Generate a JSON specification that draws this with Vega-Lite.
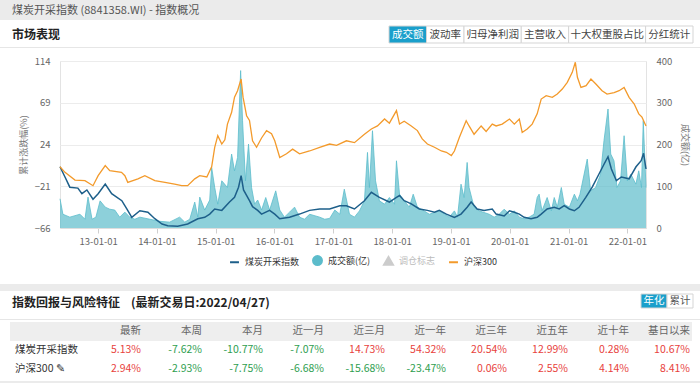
{
  "$schema": "https://vega.github.io/schema/vega-lite/v6.json",
  "padding": 0,
  "background": "#ffffff",
  "spacing": 0,
  "config": {
    "font": "Noto Sans CJK SC",
    "view": {"stroke": null},
    "concat": {"spacing": 0},
    "title": {"font": "Noto Sans CJK SC", "baseline": "middle"},
    "axis": {"labelFont": "Noto Sans CJK SC", "titleFont": "Noto Sans CJK SC"},
    "legend": {"labelFont": "Noto Sans CJK SC"},
    "text": {"font": "Noto Sans CJK SC"}
  },
  "datasets": {
    "coal": [
      {"d":"2012-05-09","v":0},{"d":"2012-06-09","v":-11},{"d":"2012-07-09","v":-22},{"d":"2012-08-28","v":-23},{"d":"2012-09-22","v":-29},{"d":"2012-10-23","v":-25},{"d":"2012-11-30","v":-35},
      {"d":"2013-01-01","v":-29},{"d":"2013-02-14","v":-18.6},{"d":"2013-03-26","v":-29},{"d":"2013-05-28","v":-36.6},{"d":"2013-06-28","v":-45.5},{"d":"2013-07-29","v":-54.5},{"d":"2013-09-17","v":-47.4},{"d":"2013-11-06","v":-49},{"d":"2013-12-19","v":-56},
      {"d":"2014-02-02","v":-61.7},{"d":"2014-03-09","v":-63.5},{"d":"2014-05-10","v":-64},{"d":"2014-07-11","v":-61.7},{"d":"2014-09-12","v":-56},{"d":"2014-10-25","v":-54.5},{"d":"2014-11-25","v":-51},{"d":"2014-12-26","v":-45.5},
      {"d":"2015-02-08","v":-47},{"d":"2015-03-28","v":-38},{"d":"2015-04-28","v":-33},{"d":"2015-05-23","v":-22},{"d":"2015-06-08","v":-9.6},{"d":"2015-06-23","v":-25},{"d":"2015-07-30","v":-36.6},{"d":"2015-08-18","v":-43},{"d":"2015-09-19","v":-47},{"d":"2015-10-13","v":-51},{"d":"2015-12-02","v":-47},
      {"d":"2016-01-03","v":-51},{"d":"2016-02-03","v":-56},{"d":"2016-04-04","v":-54.5},{"d":"2016-06-05","v":-51},{"d":"2016-08-06","v":-47},{"d":"2016-10-08","v":-45.5},{"d":"2016-12-09","v":-45.5},
      {"d":"2017-02-10","v":-42},{"d":"2017-03-23","v":-42},{"d":"2017-05-12","v":-45.5},{"d":"2017-07-13","v":-36.6},{"d":"2017-08-25","v":-27.5},{"d":"2017-10-14","v":-33},{"d":"2017-12-15","v":-38},
      {"d":"2018-01-28","v":-33},{"d":"2018-02-16","v":-31},{"d":"2018-03-17","v":-36.6},{"d":"2018-04-30","v":-40},{"d":"2018-06-19","v":-45.5},{"d":"2018-08-08","v":-47},{"d":"2018-09-21","v":-49},{"d":"2018-10-21","v":-47},{"d":"2018-12-04","v":-51},
      {"d":"2019-01-23","v":-54.5},{"d":"2019-03-05","v":-51},{"d":"2019-04-12","v":-43.7},{"d":"2019-05-07","v":-38},{"d":"2019-06-13","v":-45.5},{"d":"2019-07-26","v":-47},{"d":"2019-09-15","v":-45.5},{"d":"2019-10-09","v":-51},{"d":"2019-11-28","v":-53},{"d":"2019-12-31","v":-47.4},
      {"d":"2020-01-30","v":-49},{"d":"2020-03-01","v":-51},{"d":"2020-03-31","v":-54.5},{"d":"2020-05-13","v":-56},{"d":"2020-06-20","v":-54.5},{"d":"2020-07-15","v":-51},{"d":"2020-08-21","v":-45.5},{"d":"2020-10-04","v":-43.7},{"d":"2020-11-04","v":-45.5},{"d":"2020-12-05","v":-42},
      {"d":"2021-01-06","v":-45.5},{"d":"2021-02-06","v":-47.4},{"d":"2021-03-07","v":-43.7},{"d":"2021-04-18","v":-33},{"d":"2021-05-28","v":-22},{"d":"2021-07-09","v":-7.8},{"d":"2021-08-10","v":3},{"d":"2021-09-03","v":10.8},{"d":"2021-09-24","v":-2.4},{"d":"2021-10-25","v":-15},{"d":"2021-11-25","v":-11},
      {"d":"2022-01-12","v":-13},{"d":"2022-02-24","v":0},{"d":"2022-03-28","v":6.6},{"d":"2022-04-12","v":14.5},{"d":"2022-04-27","v":-2.4}
    ],
    "hs300": [
      {"d":"2012-05-09","v":0},{"d":"2012-06-09","v":-6},{"d":"2012-08-10","v":-14.3},{"d":"2012-10-11","v":-15},{"d":"2012-11-30","v":-20.4},
      {"d":"2013-01-01","v":-9.6},{"d":"2013-02-14","v":1.2},{"d":"2013-03-14","v":-4.2},{"d":"2013-05-26","v":-6},{"d":"2013-06-16","v":-9.6},{"d":"2013-07-04","v":-16.8},{"d":"2013-09-05","v":-13},{"d":"2013-10-18","v":-9.6},{"d":"2013-12-19","v":-15},
      {"d":"2014-02-20","v":-16.8},{"d":"2014-04-21","v":-18.6},{"d":"2014-06-04","v":-20.4},{"d":"2014-07-11","v":-20.4},{"d":"2014-08-24","v":-13},{"d":"2014-09-24","v":-9.6},{"d":"2014-11-07","v":-11},{"d":"2014-12-07","v":0},{"d":"2014-12-26","v":21},
      {"d":"2015-01-14","v":33.5},{"d":"2015-02-08","v":24.5},{"d":"2015-02-27","v":29},{"d":"2015-03-15","v":46},{"d":"2015-04-10","v":58.7},{"d":"2015-04-28","v":75},{"d":"2015-05-17","v":82},{"d":"2015-06-08","v":94.6},{"d":"2015-06-20","v":75},{"d":"2015-07-12","v":55},{"d":"2015-07-30","v":50},{"d":"2015-08-18","v":28},{"d":"2015-09-12","v":21},{"d":"2015-10-13","v":31},{"d":"2015-11-13","v":39},{"d":"2015-12-14","v":35.7},
      {"d":"2016-01-03","v":28},{"d":"2016-02-03","v":10},{"d":"2016-03-16","v":14},{"d":"2016-04-23","v":19},{"d":"2016-06-05","v":14},{"d":"2016-08-06","v":17},{"d":"2016-10-08","v":21},{"d":"2016-12-09","v":24.5},
      {"d":"2017-01-21","v":23},{"d":"2017-03-23","v":28},{"d":"2017-05-12","v":26},{"d":"2017-07-13","v":35},{"d":"2017-08-25","v":40.7},{"d":"2017-10-02","v":44},{"d":"2017-11-15","v":51.5},{"d":"2017-12-15","v":47},
      {"d":"2018-01-28","v":60.5},{"d":"2018-02-16","v":46},{"d":"2018-03-17","v":49},{"d":"2018-04-30","v":44},{"d":"2018-06-07","v":39},{"d":"2018-07-07","v":30},{"d":"2018-08-08","v":24.5},{"d":"2018-09-21","v":21},{"d":"2018-11-03","v":17},{"d":"2018-12-04","v":15.6},
      {"d":"2019-01-04","v":12},{"d":"2019-01-23","v":17},{"d":"2019-02-23","v":31.7},{"d":"2019-04-06","v":49.6},{"d":"2019-04-24","v":44},{"d":"2019-05-25","v":35},{"d":"2019-07-08","v":44},{"d":"2019-08-08","v":38},{"d":"2019-09-15","v":46},{"d":"2019-10-09","v":44},{"d":"2019-11-16","v":46},{"d":"2019-12-31","v":51.5},
      {"d":"2020-01-30","v":46},{"d":"2020-03-01","v":51.5},{"d":"2020-03-19","v":37},{"d":"2020-04-19","v":40.7},{"d":"2020-05-20","v":46},{"d":"2020-06-20","v":57},{"d":"2020-07-15","v":73},{"d":"2020-08-15","v":76.6},{"d":"2020-09-22","v":74.8},{"d":"2020-10-23","v":78.4},{"d":"2020-11-23","v":83.8},{"d":"2020-12-24","v":91},
      {"d":"2021-01-24","v":101.8},{"d":"2021-02-12","v":112.6},{"d":"2021-02-25","v":96.5},{"d":"2021-03-19","v":85.6},{"d":"2021-04-20","v":87.4},{"d":"2021-05-20","v":94.6},{"d":"2021-06-21","v":89},{"d":"2021-07-28","v":82},{"d":"2021-08-28","v":78.4},{"d":"2021-10-11","v":80},{"d":"2021-11-11","v":82},{"d":"2021-12-12","v":85.6},
      {"d":"2022-01-12","v":74.8},{"d":"2022-02-13","v":67.6},{"d":"2022-03-13","v":57},{"d":"2022-04-02","v":53.5},{"d":"2022-04-27","v":44}
    ],
    "vol": [
      {"d":"2012-05-09","v":70},{"d":"2012-05-27","v":33},{"d":"2012-07-09","v":26},{"d":"2012-09-10","v":33},{"d":"2012-10-11","v":21},{"d":"2012-10-30","v":74},{"d":"2012-11-24","v":21},{"d":"2012-12-18","v":26},
      {"d":"2013-01-13","v":65},{"d":"2013-02-14","v":50},{"d":"2013-03-14","v":45},{"d":"2013-04-14","v":43},{"d":"2013-05-15","v":26},{"d":"2013-06-16","v":38},{"d":"2013-07-16","v":26},{"d":"2013-08-17","v":21},{"d":"2013-09-17","v":26},{"d":"2013-11-18","v":21},
      {"d":"2014-01-20","v":16},{"d":"2014-03-21","v":14},{"d":"2014-05-22","v":26},{"d":"2014-06-23","v":14},{"d":"2014-07-24","v":21},{"d":"2014-08-24","v":62},{"d":"2014-09-12","v":26},{"d":"2014-09-24","v":74},{"d":"2014-10-25","v":43},{"d":"2014-11-25","v":67},{"d":"2014-12-07","v":145},{"d":"2014-12-26","v":97},
      {"d":"2015-01-14","v":57},{"d":"2015-02-08","v":113},{"d":"2015-03-15","v":97},{"d":"2015-04-10","v":177},{"d":"2015-04-28","v":137},{"d":"2015-05-17","v":169},{"d":"2015-06-05","v":377},{"d":"2015-06-17","v":257},{"d":"2015-07-05","v":113},{"d":"2015-07-24","v":201},{"d":"2015-08-12","v":97},{"d":"2015-08-31","v":57},{"d":"2015-09-19","v":67},{"d":"2015-10-13","v":43},{"d":"2015-11-08","v":73},{"d":"2015-12-02","v":43},
      {"d":"2016-01-09","v":89},{"d":"2016-02-03","v":43},{"d":"2016-03-03","v":26},{"d":"2016-04-04","v":38},{"d":"2016-05-05","v":50},{"d":"2016-06-05","v":26},{"d":"2016-07-06","v":21},{"d":"2016-08-06","v":33},{"d":"2016-10-08","v":26},{"d":"2016-11-08","v":21},{"d":"2016-12-09","v":23},
      {"d":"2017-01-10","v":43},{"d":"2017-02-10","v":33},{"d":"2017-03-10","v":93},{"d":"2017-04-11","v":33},{"d":"2017-05-12","v":26},{"d":"2017-06-12","v":41},{"d":"2017-07-13","v":65},{"d":"2017-08-01","v":181},{"d":"2017-08-13","v":97},{"d":"2017-09-01","v":233},{"d":"2017-09-20","v":113},{"d":"2017-10-14","v":65},{"d":"2017-11-15","v":57},{"d":"2017-12-15","v":73},
      {"d":"2018-01-16","v":57},{"d":"2018-01-28","v":161},{"d":"2018-02-16","v":81},{"d":"2018-03-17","v":65},{"d":"2018-04-18","v":50},{"d":"2018-05-12","v":81},{"d":"2018-06-07","v":50},{"d":"2018-07-19","v":41},{"d":"2018-08-20","v":33},{"d":"2018-10-21","v":41},{"d":"2018-12-22","v":26},
      {"d":"2019-01-23","v":41},{"d":"2019-02-11","v":26},{"d":"2019-03-05","v":105},{"d":"2019-03-24","v":73},{"d":"2019-04-12","v":157},{"d":"2019-04-24","v":97},{"d":"2019-05-25","v":50},{"d":"2019-06-26","v":41},{"d":"2019-08-27","v":33},{"d":"2019-09-27","v":26},{"d":"2019-10-28","v":33},{"d":"2019-11-28","v":45},{"d":"2019-12-31","v":33},
      {"d":"2020-01-30","v":41},{"d":"2020-03-01","v":26},{"d":"2020-03-31","v":22},{"d":"2020-05-01","v":26},{"d":"2020-06-01","v":33},{"d":"2020-06-20","v":73},{"d":"2020-07-02","v":81},{"d":"2020-07-20","v":41},{"d":"2020-08-21","v":73},{"d":"2020-09-16","v":41},{"d":"2020-10-04","v":73},{"d":"2020-10-23","v":50},{"d":"2020-11-17","v":97},{"d":"2020-12-05","v":57},
      {"d":"2021-01-06","v":50},{"d":"2021-02-06","v":81},{"d":"2021-02-25","v":65},{"d":"2021-03-13","v":81},{"d":"2021-04-27","v":165},{"d":"2021-05-18","v":89},{"d":"2021-06-18","v":97},{"d":"2021-07-19","v":129},{"d":"2021-08-09","v":209},{"d":"2021-09-03","v":285},{"d":"2021-09-20","v":177},{"d":"2021-10-10","v":161},{"d":"2021-10-29","v":97},{"d":"2021-11-20","v":113},{"d":"2021-12-12","v":221},
      {"d":"2022-01-01","v":113},{"d":"2022-01-23","v":129},{"d":"2022-02-23","v":105},{"d":"2022-03-13","v":137},{"d":"2022-03-30","v":97},{"d":"2022-04-10","v":257},{"d":"2022-04-27","v":97}
    ],
    "tabs": [{"tab":"成交额"},{"tab":"波动率"},{"tab":"归母净利润"},{"tab":"主营收入"},{"tab":"十大权重股占比"},{"tab":"分红统计"}],
    "btns": [{"b":"年化"},{"b":"累计"}],
    "table": [
      {"r":"h","c":"最新","t":"最新"},{"r":"h","c":"本周","t":"本周"},{"r":"h","c":"本月","t":"本月"},{"r":"h","c":"近一月","t":"近一月"},{"r":"h","c":"近三月","t":"近三月"},{"r":"h","c":"近一年","t":"近一年"},{"r":"h","c":"近三年","t":"近三年"},{"r":"h","c":"近五年","t":"近五年"},{"r":"h","c":"近十年","t":"近十年"},{"r":"h","c":"基日以来","t":"基日以来"},
      {"r":"煤炭开采指数","c":"名称","t":"煤炭开采指数"},
      {"r":"煤炭开采指数","c":"最新","t":"5.13%","n":5.13},{"r":"煤炭开采指数","c":"本周","t":"-7.62%","n":-7.62},{"r":"煤炭开采指数","c":"本月","t":"-10.77%","n":-10.77},{"r":"煤炭开采指数","c":"近一月","t":"-7.07%","n":-7.07},{"r":"煤炭开采指数","c":"近三月","t":"14.73%","n":14.73},{"r":"煤炭开采指数","c":"近一年","t":"54.32%","n":54.32},{"r":"煤炭开采指数","c":"近三年","t":"20.54%","n":20.54},{"r":"煤炭开采指数","c":"近五年","t":"12.99%","n":12.99},{"r":"煤炭开采指数","c":"近十年","t":"0.28%","n":0.28},{"r":"煤炭开采指数","c":"基日以来","t":"10.67%","n":10.67},
      {"r":"沪深300","c":"名称","t":"沪深300 ✎"},
      {"r":"沪深300","c":"最新","t":"2.94%","n":2.94},{"r":"沪深300","c":"本周","t":"-2.93%","n":-2.93},{"r":"沪深300","c":"本月","t":"-7.75%","n":-7.75},{"r":"沪深300","c":"近一月","t":"-6.68%","n":-6.68},{"r":"沪深300","c":"近三月","t":"-15.68%","n":-15.68},{"r":"沪深300","c":"近一年","t":"-23.47%","n":-23.47},{"r":"沪深300","c":"近三年","t":"0.06%","n":0.06},{"r":"沪深300","c":"近五年","t":"2.55%","n":2.55},{"r":"沪深300","c":"近十年","t":"4.14%","n":4.14},{"r":"沪深300","c":"基日以来","t":"8.41%","n":8.41}
    ]
  },
  "vconcat": [
    {
      "width": 700, "height": 20,
      "data": {"values": [{}]},
      "mark": {"type": "rect", "color": "#ebebeb"},
      "title": {"text": "煤炭开采指数 (8841358.WI) - 指数概况", "anchor": "start", "frame": "group", "offset": -16, "dx": 12, "fontSize": 11, "fontWeight": "normal", "color": "#555555"}
    },
    {"width": 1, "height": 5, "data": {"values": [{}]}, "mark": {"type": "rect", "opacity": 0}},
    {
      "hconcat": [
        {
          "width": 388, "height": 17,
          "data": {"values": [{}]},
          "mark": {"type": "rect", "opacity": 0},
          "title": {"text": "市场表现", "anchor": "start", "frame": "group", "offset": -15.5, "dx": 12, "fontSize": 12, "fontWeight": "bold", "color": "#222222"}
        },
        {
          "width": 304, "height": 17,
          "data": {"name": "tabs"},
          "transform": [
            {"calculate": "length(datum.tab) * 10 + 8", "as": "w"},
            {"window": [{"op": "sum", "field": "w", "as": "e"}, {"op": "row_number", "as": "i"}]},
            {"calculate": "datum.e - datum.w", "as": "b"},
            {"calculate": "datum.e - datum.w / 2", "as": "m"}
          ],
          "layer": [
            {
              "mark": {"type": "rect", "stroke": "#d5d5d5", "strokeWidth": 1},
              "encoding": {
                "x": {"field": "b", "type": "quantitative", "scale": {"nice": false, "zero": true}, "axis": null},
                "x2": {"field": "e"},
                "color": {"condition": {"test": "datum.i == 1", "value": "#1a9fcb"}, "value": "#ffffff"}
              }
            },
            {
              "mark": {"type": "text", "fontSize": 10.5},
              "encoding": {
                "x": {"field": "m", "type": "quantitative", "axis": null},
                "text": {"field": "tab"},
                "color": {"condition": {"test": "datum.i == 1", "value": "#ffffff"}, "value": "#444444"}
              }
            }
          ]
        }
      ]
    },
    {"width": 1, "height": 3, "data": {"values": [{}]}, "mark": {"type": "rect", "opacity": 0}},
    {"width": 700, "height": 1, "data": {"values": [{}]}, "mark": {"type": "rect", "color": "#e6e6e6"}},
    {"width": 1, "height": 7, "data": {"values": [{}]}, "mark": {"type": "rect", "opacity": 0}},
    {
      "hconcat": [
        {"width": 18, "height": 1, "data": {"values": [{}]}, "mark": {"type": "rect", "opacity": 0}},
        {
          "width": 586, "height": 167,
          "view": {"stroke": "#e3e3e3"},
          "layer": [
            {
              "data": {"name": "vol"},
              "mark": {"type": "area", "fillOpacity": 0.7, "line": {"strokeWidth": 0.8}},
              "encoding": {
                "x": {"field": "d", "type": "temporal", "scale": {"domain": [{"year": 2012, "month": 5, "date": 9}, {"year": 2022, "month": 4, "date": 27}], "nice": false},
                      "axis": {"format": "%y-%m-%d", "tickCount": {"interval": "year", "step": 1}, "labelFontSize": 9.5, "labelColor": "#666666", "tickColor": "#cfcfcf", "tickSize": 5, "domainColor": "#dddddd", "grid": false, "labelPadding": 3, "title": null}},
                "y": {"field": "v", "type": "quantitative", "scale": {"domain": [0, 400], "nice": false},
                      "axis": {"orient": "right", "values": [0, 100, 200, 300, 400], "title": "成交额(亿)", "titleFontSize": 9, "titleColor": "#777777", "titleFontWeight": "normal", "titlePadding": 8, "labelFontSize": 9.5, "labelColor": "#666666", "labelPadding": 10, "domain": false, "ticks": false, "grid": false}},
                "color": {"datum": "成交额(亿)", "type": "nominal",
                          "scale": {"domain": ["煤炭开采指数", "成交额(亿)", "调仓标志", "沪深300"], "range": ["#1d5f8a", "#5cbccb", "#cccccc", "#f39a2b"]},
                          "legend": {
                            "orient": "none", "legendX": 229, "legendY": 255, "direction": "horizontal", "title": null,
                            "labelFontSize": 9, "labelColor": "#333333", "symbolSize": 80, "symbolStrokeWidth": 2, "columnPadding": 9, "labelOffset": 5,
                            "encode": {
                              "symbols": {"update": {
                                "shape": {"signal": "datum.label == '成交额(亿)' ? 'circle' : datum.label == '调仓标志' ? 'triangle-up' : 'stroke'"},
                                "fill": {"signal": "datum.label == '成交额(亿)' ? '#5cbccb' : datum.label == '调仓标志' ? '#cccccc' : 'transparent'"},
                                "stroke": {"signal": "datum.label == '煤炭开采指数' ? '#1d5f8a' : datum.label == '沪深300' ? '#f39a2b' : 'transparent'"},
                                "strokeWidth": {"value": 2}
                              }},
                              "labels": {"update": {"fill": {"signal": "datum.label == '调仓标志' ? '#bbbbbb' : '#333333'"}}}
                            }
                          }}
              }
            },
            {
              "data": {"name": "coal"},
              "mark": {"type": "line", "strokeWidth": 1.5},
              "encoding": {
                "x": {"field": "d", "type": "temporal"},
                "y": {"field": "v", "type": "quantitative", "scale": {"domain": [-66, 114], "nice": false},
                      "axis": {"values": [114, 69, 24, -21, -66], "title": "累计涨跌幅(%)", "titleFontSize": 9, "titleColor": "#777777", "titleFontWeight": "normal", "titlePadding": 6, "labelFontSize": 9.5, "labelColor": "#666666", "labelPadding": 10, "domain": false, "ticks": false, "grid": true, "gridColor": "#ececec"}},
                "color": {"datum": "煤炭开采指数", "type": "nominal"}
              }
            },
            {
              "data": {"name": "hs300"},
              "mark": {"type": "line", "strokeWidth": 1.3},
              "encoding": {
                "x": {"field": "d", "type": "temporal"},
                "y": {"field": "v", "type": "quantitative", "scale": {"domain": [-66, 114], "nice": false}, "axis": null},
                "color": {"datum": "沪深300", "type": "nominal"}
              }
            }
          ],
          "resolve": {"scale": {"y": "independent"}}
        }
      ]
    },
    {"width": 1, "height": 38, "data": {"values": [{}]}, "mark": {"type": "rect", "opacity": 0}},
    {"width": 700, "height": 7, "data": {"values": [{}]}, "mark": {"type": "rect", "color": "#ebebeb"}},
    {"width": 1, "height": 2, "data": {"values": [{}]}, "mark": {"type": "rect", "opacity": 0}},
    {
      "hconcat": [
        {
          "width": 640, "height": 14,
          "data": {"values": [{}]},
          "mark": {"type": "rect", "opacity": 0},
          "title": {"text": "指数回报与风险特征\u00a0\u00a0\u00a0\u00a0(最新交易日:2022/04/27)", "anchor": "start", "frame": "group", "offset": -16, "dx": 12, "fontSize": 12, "fontWeight": "bold", "color": "#222222"}
        },
        {
          "width": 52, "height": 14,
          "data": {"name": "btns"},
          "layer": [
            {
              "mark": {"type": "rect", "stroke": "#d5d5d5", "strokeWidth": 1},
              "encoding": {
                "x": {"field": "b", "type": "nominal", "sort": null, "scale": {"paddingInner": 0, "paddingOuter": 0}, "axis": null},
                "color": {"condition": {"test": "datum.b == '年化'", "value": "#1a9fcb"}, "value": "#ffffff"}
              }
            },
            {
              "mark": {"type": "text", "fontSize": 10.5},
              "encoding": {
                "x": {"field": "b", "type": "nominal", "sort": null, "axis": null},
                "text": {"field": "b"},
                "color": {"condition": {"test": "datum.b == '年化'", "value": "#ffffff"}, "value": "#555555"}
              }
            }
          ]
        }
      ]
    },
    {"width": 1, "height": 10, "data": {"values": [{}]}, "mark": {"type": "rect", "opacity": 0}},
    {"width": 700, "height": 1, "data": {"values": [{}]}, "mark": {"type": "rect", "color": "#e6e6e6"}},
    {"width": 1, "height": 2, "data": {"values": [{}]}, "mark": {"type": "rect", "opacity": 0}},
    {
      "hconcat": [
        {"width": 10, "height": 1, "data": {"values": [{}]}, "mark": {"type": "rect", "opacity": 0}},
        {
          "width": 682, "height": 56,
          "data": {"name": "table"},
          "layer": [
            {
              "transform": [{"filter": "datum.r == 'h'"}],
              "mark": {"type": "rect", "color": "#eeeeee"},
              "encoding": {
                "y": {"field": "r", "type": "nominal", "sort": ["h", "煤炭开采指数", "沪深300"], "scale": {"paddingInner": 0, "paddingOuter": 0}, "axis": null}
              }
            },
            {
              "transform": [{"filter": "datum.c != '名称'"}],
              "mark": {"type": "text", "align": "right", "dx": 28.5, "fontSize": 10.5},
              "encoding": {
                "x": {"field": "c", "type": "nominal", "sort": ["名称", "最新", "本周", "本月", "近一月", "近三月", "近一年", "近三年", "近五年", "近十年", "基日以来"], "scale": {"type": "band", "paddingInner": 0, "paddingOuter": 0.09, "align": 1}, "axis": null},
                "y": {"field": "r", "type": "nominal", "sort": ["h", "煤炭开采指数", "沪深300"], "axis": null},
                "text": {"field": "t"},
                "color": {"condition": [{"test": "datum.r == 'h'", "value": "#666666"}, {"test": "datum.n < 0", "value": "#2e9e4f"}], "value": "#e8413c"}
              }
            },
            {
              "transform": [{"filter": "datum.c == '名称'"}],
              "mark": {"type": "text", "align": "left", "dx": -36.5, "fontSize": 10.5, "color": "#333333"},
              "encoding": {
                "x": {"field": "c", "type": "nominal", "sort": ["名称", "最新", "本周", "本月", "近一月", "近三月", "近一年", "近三年", "近五年", "近十年", "基日以来"], "axis": null},
                "y": {"field": "r", "type": "nominal", "sort": ["h", "煤炭开采指数", "沪深300"], "axis": null},
                "text": {"field": "t"}
              }
            }
          ]
        }
      ]
    },
    {"width": 1, "height": 3, "data": {"values": [{}]}, "mark": {"type": "rect", "opacity": 0}},
    {"width": 700, "height": 5, "data": {"values": [{}]}, "mark": {"type": "rect", "color": "#ebebeb"}}
  ]
}
